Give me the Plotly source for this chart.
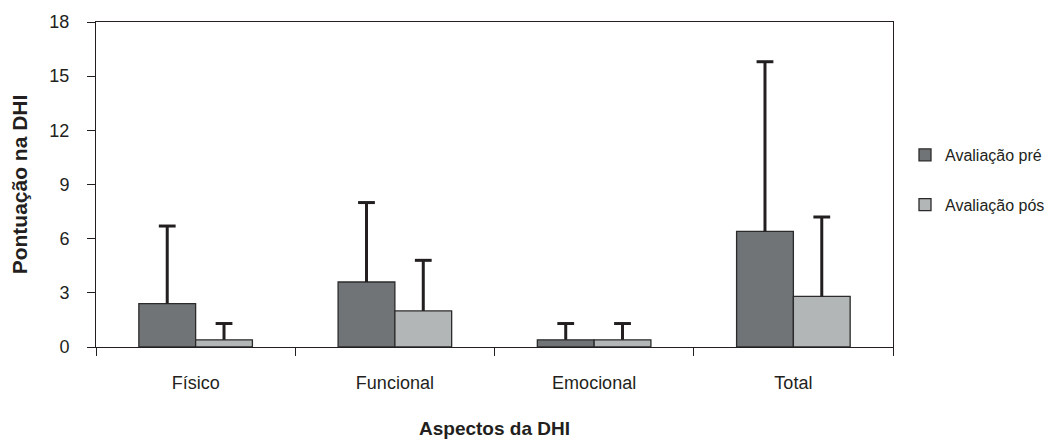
import plotly.graph_objects as go

# DHI scores by aspect, before and after (mean and standard deviation)
aspectos = ["Físico", "Funcional", "Emocional", "Total"]
media_pre = [2.4, 3.6, 0.4, 6.4]
dp_pre = [4.3, 4.4, 0.9, 9.4]
media_pos = [0.4, 2.0, 0.4, 2.8]
dp_pos = [0.9, 2.8, 0.9, 4.4]
y_ticks = [0, 3, 6, 9, 12, 15, 18]

ink = "#231f20"
font_family = "Arial"
gap = 0.43

fig = go.Figure()
series = [
    ("Avaliação pré", "pre", media_pre, dp_pre, "#707477"),
    ("Avaliação pós", "pos", media_pos, dp_pos, "#b3b6b6"),
]
for nome, grupo, media, dp, cor in series:
    # bar with an upward-only whisker (caps drawn separately below)
    fig.add_trace(go.Bar(
        x=aspectos, y=media, name=nome, legendgroup=grupo, offsetgroup=grupo,
        marker=dict(color=cor, line=dict(color="#2b2b2b", width=1.3)),
        error_y=dict(type="data", array=dp, arrayminus=[0] * len(dp),
                     symmetric=False, color=ink, thickness=3, width=0),
    ))
for nome, grupo, media, dp, cor in series:
    # cap at the top of each whisker
    fig.add_trace(go.Scatter(
        x=aspectos, y=[m + s for m, s in zip(media, dp)],
        mode="markers", legendgroup=grupo, offsetgroup=grupo, showlegend=False,
        marker=dict(symbol="line-ew-open", size=12, color=ink,
                    line=dict(color=ink, width=3)),
        hoverinfo="skip",
    ))

fig.update_layout(
    width=1057, height=441,
    margin=dict(l=96, r=164, t=22, b=94, autoexpand=False),
    paper_bgcolor="white", plot_bgcolor="white",
    barmode="group", bargap=gap, bargroupgap=0,
    scattermode="group", scattergap=gap,
    font=dict(family=font_family, color=ink, size=18),
    legend=dict(
        xref="container", yref="container",
        x=905 / 1057, y=1 - 180 / 441, xanchor="left", yanchor="middle",
        traceorder="grouped", tracegroupgap=26,
        font=dict(size=16, color=ink),
    ),
)
fig.update_xaxes(
    type="category", tickson="boundaries", automargin=False,
    showline=True, linecolor=ink, linewidth=1, mirror=True,
    ticks="outside", ticklen=8, tickcolor=ink, tickwidth=1,
    ticklabelstandoff=19,
    tickfont=dict(size=18),
    title=dict(text="<b>Aspectos da DHI</b>", font=dict(size=19), standoff=30),
    showgrid=False,
)
fig.update_yaxes(
    range=[0, 18], tickvals=y_ticks, automargin=False,
    showline=True, linecolor=ink, linewidth=1, mirror=True,
    ticks="outside", ticklen=8, tickcolor=ink, tickwidth=1,
    ticklabelstandoff=14,
    tickfont=dict(size=18),
    title=dict(text="<b>Pontuação na DHI</b>", font=dict(size=21), standoff=16),
    showgrid=False, zeroline=False,
)

fig.write_html("out.html")
